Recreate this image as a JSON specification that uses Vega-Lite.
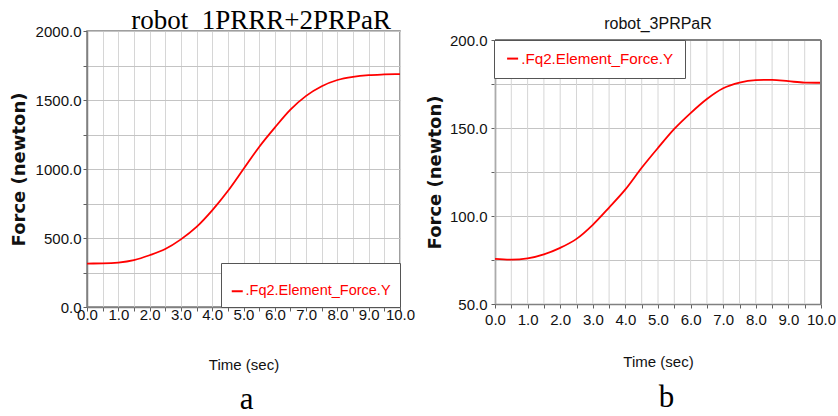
{
  "$schema": "https://vega.github.io/schema/vega-lite/v6.json",
  "background": "white",
  "padding": {"left": 9, "top": 6, "right": 2, "bottom": 2},
  "spacing": 10,
  "align": "none",
  "datasets": {
    "a": [
      {"t": 0.0, "f": 315}, {"t": 0.5, "f": 316}, {"t": 1.0, "f": 322}, {"t": 1.5, "f": 340},
      {"t": 2.0, "f": 375}, {"t": 2.5, "f": 420}, {"t": 3.0, "f": 490}, {"t": 3.5, "f": 580},
      {"t": 4.0, "f": 700}, {"t": 4.5, "f": 840}, {"t": 5.0, "f": 1000}, {"t": 5.5, "f": 1160},
      {"t": 6.0, "f": 1300}, {"t": 6.5, "f": 1430}, {"t": 7.0, "f": 1530}, {"t": 7.5, "f": 1600},
      {"t": 8.0, "f": 1645}, {"t": 8.5, "f": 1668}, {"t": 9.0, "f": 1680}, {"t": 9.5, "f": 1685},
      {"t": 10.0, "f": 1688}
    ],
    "b": [
      {"t": 0.0, "f": 75.6}, {"t": 0.5, "f": 75.2}, {"t": 1.0, "f": 75.9}, {"t": 1.5, "f": 78.2},
      {"t": 2.0, "f": 81.9}, {"t": 2.5, "f": 87.0}, {"t": 3.0, "f": 95.0}, {"t": 3.5, "f": 104.8},
      {"t": 4.0, "f": 115.1}, {"t": 4.5, "f": 127.4}, {"t": 5.0, "f": 138.7}, {"t": 5.5, "f": 149.5},
      {"t": 6.0, "f": 158.5}, {"t": 6.5, "f": 166.5}, {"t": 7.0, "f": 172.6}, {"t": 7.5, "f": 175.8},
      {"t": 8.0, "f": 177.2}, {"t": 8.5, "f": 177.4}, {"t": 9.0, "f": 176.6}, {"t": 9.5, "f": 175.8},
      {"t": 10.0, "f": 175.7}
    ]
  },
  "config": {
    "view": {"stroke": "#808080", "strokeWidth": 1.5},
    "axis": {
      "domainColor": "#808080",
      "domainWidth": 1.5,
      "tickColor": "#606060",
      "tickSize": 4,
      "labelColor": "#111111",
      "labelFont": "Liberation Sans",
      "labelFontSize": 15,
      "labelFlush": false,
      "labelOverlap": false,
      "titleColor": "#111111"
    },
    "legend": {
      "fillColor": "white",
      "strokeColor": "#555555",
      "labelColor": "#ff0000",
      "labelFont": "Liberation Sans",
      "labelLimit": 400,
      "symbolType": "stroke",
      "symbolStrokeWidth": 2,
      "symbolSize": 121,
      "labelOffset": 1,
      "offset": 0
    }
  },
  "hconcat": [
    {
      "width": 313,
      "height": 276,
      "data": {"name": "a"},
      "title": {"text": "robot\u00a0 1PRRR+2PRPaR", "font": "Liberation Serif", "fontSize": 27, "fontWeight": "normal", "anchor": "end", "frame": "group", "dx": -9, "offset": -11, "color": "#000000"},
      "resolve": {"axis": {"x": "independent"}},
      "layer": [
        {
          "mark": {"type": "line", "color": "#ff0000", "strokeWidth": 1.8, "interpolate": "monotone"},
          "encoding": {
            "x": {"field": "t", "type": "quantitative", "scale": {"domain": [0, 10], "nice": false},
              "axis": {"values": [0,0.5,1,1.5,2,2.5,3,3.5,4,4.5,5,5.5,6,6.5,7,7.5,8,8.5,9,9.5,10],
                "labelExpr": "datum.value % 1 === 0 ? format(datum.value, '.1f') : ''",
                "grid": true, "gridColor": "#d6d6d6", "labelPadding": -4,
                "title": "Time (sec)", "titleFont": "Liberation Sans", "titleFontSize": 15, "titleFontWeight": "normal", "titlePadding": 35}},
            "y": {"field": "f", "type": "quantitative", "scale": {"domain": [0, 2000], "nice": false},
              "axis": {"values": [0,250,500,750,1000,1250,1500,1750,2000],
                "labelExpr": "datum.value % 500 === 0 ? format(datum.value, '.1f') : ''",
                "grid": true, "gridColor": "#c4c4c4", "labelPadding": 2,
                "title": "Force (newton)", "titleFont": "DejaVu Sans", "titleFontSize": 18, "titleFontWeight": "bold", "titlePadding": 7}},
            "color": {"datum": ".Fq2.Element_Force.Y", "type": "nominal", "scale": {"range": ["#ff0000"]},
              "legend": {"orient": "bottom-right", "padding": 9, "labelFontSize": 14.5, "title": " ", "titleFontSize": 10, "titlePadding": 2}}
          }
        },
        {
          "mark": {"type": "point", "opacity": 0},
          "encoding": {
            "x": {"field": "t", "type": "quantitative",
              "axis": {"orient": "bottom", "labels": false, "ticks": false, "domain": false, "grid": false,
                "title": "a", "titleFont": "Liberation Serif", "titleFontSize": 31, "titleFontWeight": "normal", "titlePadding": 77, "titleX": 159, "titleColor": "#000000"}}
          }
        }
      ]
    },
    {
      "width": 326,
      "height": 273,
      "view": {"stroke": null},
      "data": {"name": "b"},
      "title": {"text": "robot_3PRPaR", "font": "Liberation Sans", "fontSize": 16, "fontWeight": "normal", "anchor": "middle", "frame": "group", "offset": -1, "color": "#111111"},
      "resolve": {"axis": {"x": "independent"}},
      "layer": [
        {
          "mark": {"type": "rule", "color": "#d6d6d6", "strokeWidth": 1},
          "encoding": {
            "x": {"field": "t", "type": "quantitative", "scale": {"domain": [0, 10], "nice": false},
              "axis": {"values": [0,0.5,1,1.5,2,2.5,3,3.5,4,4.5,5,5.5,6,6.5,7,7.5,8,8.5,9,9.5,10],
                "labelExpr": "datum.value % 1 === 0 ? format(datum.value, '.1f') : ''",
                "grid": false, "labelPadding": 4,
                "title": "Time (sec)", "titleFont": "Liberation Sans", "titleFontSize": 15, "titleFontWeight": "normal", "titlePadding": 27}},
            "y": {"datum": 50, "type": "quantitative", "scale": {"domain": [50, 200], "nice": false, "zero": false, "range": [273, 9]},
              "axis": {"values": [50,75,100,125,150,175,200],
                "labelExpr": "datum.value % 50 === 0 ? format(datum.value, '.1f') : ''",
                "grid": true, "gridColor": "#c4c4c4", "labelPadding": 4,
                "title": "Force (newton)", "titleFont": "DejaVu Sans", "titleFontSize": 18, "titleFontWeight": "bold", "titlePadding": 5}},
            "y2": {"datum": 200}
          }
        },
        {
          "mark": {"type": "line", "color": "#ff0000", "strokeWidth": 1.8, "interpolate": "monotone"},
          "encoding": {
            "x": {"field": "t", "type": "quantitative", "axis": null},
            "y": {"field": "f", "type": "quantitative"},
            "color": {"datum": ".Fq2.Element_Force.Y", "type": "nominal", "scale": {"range": ["#ff0000"]},
              "legend": {"orient": "none", "legendX": -1, "legendY": 9, "padding": 11, "labelFontSize": 15.2, "title": null}}
          }
        },
        {
          "mark": {"type": "rule", "color": "#808080", "strokeWidth": 1.5},
          "encoding": {"y": {"datum": 200, "type": "quantitative"}}
        },
        {
          "mark": {"type": "rule", "color": "#808080", "strokeWidth": 1.5},
          "encoding": {"x": {"datum": 10, "type": "quantitative", "axis": null}, "y": {"datum": 50, "type": "quantitative"}, "y2": {"datum": 200}}
        },
        {
          "mark": {"type": "point", "opacity": 0},
          "encoding": {
            "x": {"field": "t", "type": "quantitative",
              "axis": {"orient": "bottom", "labels": false, "ticks": false, "domain": false, "grid": false,
                "title": "b", "titleFont": "Liberation Serif", "titleFontSize": 31, "titleFontWeight": "normal", "titlePadding": 78, "titleX": 171, "titleColor": "#000000"}}
          }
        }
      ]
    }
  ]
}
